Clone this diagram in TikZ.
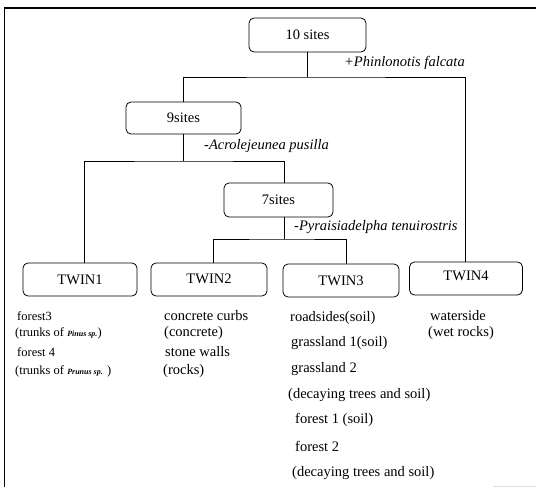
\documentclass[tikz,border=0pt]{standalone}
\usepackage{fontspec}
\setmainfont{Liberation Serif}
\begin{document}
\begin{tikzpicture}[x=1pt,y=-1pt,
  box/.style={draw, rounded corners=5pt, line width=0.8pt, minimum height=33pt, inner sep=0pt, font=\fontsize{14.5}{17}\selectfont},
  conn/.style={line width=0.7pt},
  lab/.style={anchor=west, inner sep=0pt, text height=10pt, text depth=3pt, font=\fontsize{14.5}{17}\selectfont},
  itlab/.style={lab, font=\fontsize{14.5}{17}\selectfont\itshape},
  smlab/.style={anchor=west, inner sep=0pt, text height=9pt, text depth=3pt, font=\fontsize{12.5}{15}\selectfont},
  frame/.style={line width=1pt}]
\useasboundingbox (0,0) rectangle (536,487);
% frame
\draw[frame, line width=1.2pt] (4,8) -- (536,8);
\draw[frame] (4,8) -- (4,487);
\draw[gray!25, line width=0.8pt] (493,486) -- (536,486);
% boxes
\node[box, minimum width=117pt, minimum height=34pt] (s10) at (307.5,35) {10 sites};
\node[box, minimum width=115pt, minimum height=32pt] (s9) at (183.5,118) {9sites};
\node[box, minimum width=109pt, minimum height=34pt] (s7) at (278.5,200) {7sites};
\node[box, minimum width=114pt] (t1) at (80,279.5) {TWIN1};
\node[box, minimum width=116pt] (t2) at (209,279.5) {\raisebox{2pt}{TWIN2}};
\node[box, minimum width=116pt] (t3) at (341,280.5) {TWIN3};
\node[box, minimum width=113pt] (t4) at (466,278.5) {\raisebox{5pt}{TWIN4}};
% junctions
\coordinate (j1) at (307.5,77);
\coordinate (j2) at (183.5,161);
\coordinate (j3) at (284,239);
% connectors
\draw[conn] (s10.south) -- (j1);
\draw[conn] (s9.north) |- (j1) -| ([xshift=-1pt]t4.north);
\draw[conn] (s9.south) -- (j2);
\draw[conn] ([xshift=4pt]t1.north) |- (j2) -| ([xshift=5.5pt]s7.north);
\draw[conn] ([xshift=5.5pt]s7.south) -- (j3);
\draw[conn] ([xshift=4pt]t2.north) |- (j3) -| ([xshift=5pt]t3.north);
% branch labels
\node[itlab] (l1) at (344,63) {+Phinlonotis falcata};
\node[itlab] (l2) at (204,146) {-Acrolejeunea pusilla};
\node[itlab] (l3) at (294,227) {-Pyraisiadelpha tenuirostris};
% TWIN1 column
\node[smlab] (a1) at (17,317) {forest3};
\node[smlab] (a2) at (15,333) {(trunks of {\fontsize{8}{9}\selectfont\itshape\bfseries Pinus sp.})};
\node[smlab] (a3) at (17,353) {forest 4};
\node[smlab] (a4) at (15,371) {(trunks of {\fontsize{8}{9}\selectfont\itshape\bfseries Prunus sp.} )};
% TWIN2 column
\node[lab] (b1) at (164,317) {concrete curbs};
\node[lab] (b2) at (164,333) {(concrete)};
\node[lab] (b3) at (165,353) {stone walls};
\node[lab] (b4) at (163,371) {(rocks)};
% TWIN3 column
\node[lab] (c1) at (290,318) {roadsides(soil)};
\node[lab] (c2) at (291,343) {grassland 1(soil)};
\node[lab] (c3) at (291,369) {grassland 2};
\node[lab] (c4) at (288,395) {(decaying trees and soil)};
\node[lab] (c5) at (295,420) {forest 1 (soil)};
\node[lab] (c6) at (295,448) {forest 2};
\node[lab] (c7) at (292,473) {(decaying trees and soil)};
% TWIN4 column
\node[lab] (d1) at (430,317) {waterside};
\node[lab] (d2) at (428,333) {(wet rocks)};
\end{tikzpicture}
\end{document}
